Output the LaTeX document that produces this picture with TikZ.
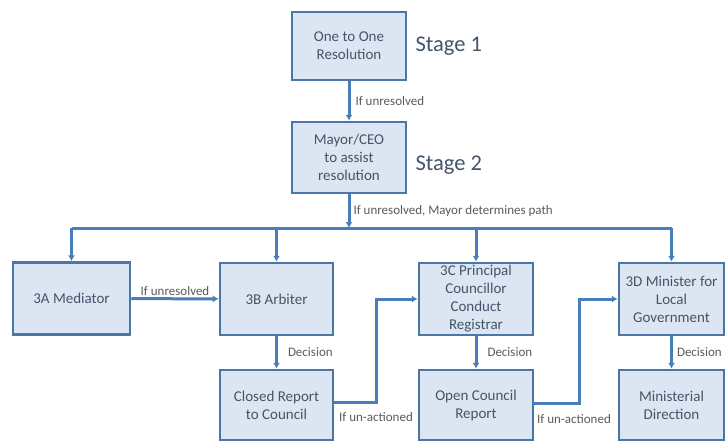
\documentclass[tikz,border=0pt]{standalone}
\usepackage{fontspec}
\setmainfont{Carlito}
\usetikzlibrary{arrows.meta}
\definecolor{boxfill}{HTML}{DCE6F2}
\definecolor{boxline}{HTML}{4A76A8}
\definecolor{flowline}{HTML}{4A7EBB}
\definecolor{boxtext}{HTML}{44546A}
\definecolor{labeltext}{HTML}{5A5A5A}

\begin{document}
\begin{tikzpicture}[x=1pt, y=-1pt,
    stagebox/.style={draw=boxline, line width=2.5pt, fill=boxfill, text=boxtext,
      minimum width=114pt, minimum height=72pt, align=center,
      font=\fontsize{15}{18}\selectfont, inner sep=1pt},
    flow/.style={draw=flowline, line width=3pt, -{Latex[length=6pt,width=7pt]}},
    flowlabel/.style={text=labeltext, font=\fontsize{13}{15}\selectfont, inner sep=1pt},
    stagetag/.style={text=boxtext, font=\fontsize{22.5}{26}\selectfont, anchor=west}]
  \useasboundingbox (0,0) rectangle (725,442);
  \clip (0,0) rectangle (725,442);

  % stages 1 and 2
  \node[stagebox, minimum height=68pt] (onetoone) at (349,46) {One to One\\Resolution};
  \node[stagebox, minimum height=71pt] (mayor) at (349,157.5) {Mayor/CEO\\to assist\\resolution};
  \node[stagetag] (stageone) at (412,46) {Stage 1};
  \node[stagetag] (stagetwo) at (412,165) {Stage 2};

  % stage 3 options
  \node[stagebox, minimum width=117pt] (mediator) at (71.5,298.5) {3A Mediator};
  \node[stagebox, minimum width=113pt] (arbiter) at (276.5,299) {3B Arbiter};
  \node[stagebox] (principal) at (476,299) {3C Principal\\Councillor\\Conduct\\Registrar};
  \node[stagebox, minimum width=105pt] (minister) at (671.5,299) {3D Minister for\\Local\\Government};

  % outcomes
  \node[stagebox, minimum width=113pt, minimum height=70pt] (closed) at (276.5,405) {Closed Report\\to Council};
  \node[stagebox, minimum height=70pt] (open) at (476,405) {Open Council\\Report};
  \node[stagebox, minimum width=105pt, minimum height=70pt] (direction) at (671.5,405) {Ministerial\\Direction};

  \coordinate (split) at (349,228);

  \draw[flow] (onetoone) -- (mayor)
    node[flowlabel, midway, right=4pt] (unres1) {If unresolved};
  \draw[flow] (mayor) -- (split)
    node[flowlabel, midway, right=2pt] (paths) {If unresolved, Mayor determines path};
  \draw[draw=flowline, line width=3pt] (mediator.north |- split) -- (minister.north |- split);
  \foreach \opt in {mediator, arbiter, principal, minister}
    \draw[flow] (\opt.north |- split) -- (\opt.north);

  \draw[flow] (mediator) -- (arbiter)
    node[flowlabel, midway, above=1pt] (unres2) {If unresolved};
  \draw[flow] (arbiter) -- (closed)
    node[flowlabel, midway, right=9pt] (dec1) {Decision};
  \draw[flow] (principal) -- (open)
    node[flowlabel, midway, right=9pt] (dec2) {Decision};
  \draw[flow] (minister) -- (direction)
    node[flowlabel, midway, right=3pt] (dec3) {Decision};

  \draw[flow] ([yshift=3pt]closed.east) -- ++(42,0) |- (principal.west);
  \draw[flow] ([yshift=2pt]open.east) -- ++(45,0) |- (minister.west);
  \node[flowlabel] (unact1) at (376,417) {If un-actioned};
  \node[flowlabel] (unact2) at (574,419) {If un-actioned};
\end{tikzpicture}
\end{document}
